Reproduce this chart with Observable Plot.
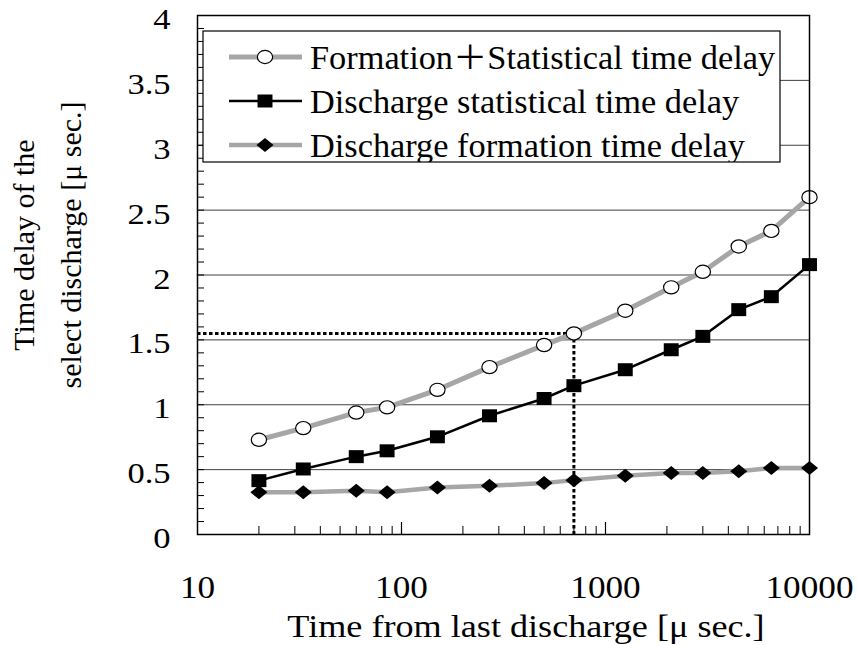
<!DOCTYPE html>
<html><head><meta charset="utf-8">
<script src="https://cdn.jsdelivr.net/npm/d3@7"></script>
<script src="https://cdn.jsdelivr.net/npm/@observablehq/plot@0.6"></script>
<style>html,body{margin:0;padding:0;background:#fff;} svg{display:block}</style>
</head><body><div id="chart"></div>
<script>
// ---- data ----
const timeFromLast = [20, 33, 60, 85, 150, 270, 500, 700, 1250, 2100, 3000, 4500, 6500, 10000];
const formationPlusStatistical = [0.73, 0.82, 0.94, 0.98, 1.115, 1.29, 1.46, 1.55, 1.725, 1.905, 2.025, 2.22, 2.34, 2.60];
const statisticalDelay = [0.415, 0.505, 0.60, 0.645, 0.753, 0.915, 1.048, 1.147, 1.27, 1.424, 1.527, 1.733, 1.833, 2.08];
const formationDelay = [0.325, 0.325, 0.337, 0.325, 0.362, 0.375, 0.396, 0.419, 0.453, 0.474, 0.474, 0.487, 0.512, 0.512];
const seriesNames = ["Formation＋Statistical time delay", "Discharge statistical time delay", "Discharge formation time delay"];
const xTicks = [10, 100, 1000, 10000];
const yTicks = [0, 0.5, 1, 1.5, 2, 2.5, 3, 3.5, 4];
const refX = [700];
const refY = [1.55];
const xTitle = "Time from last discharge [μ sec.]";
const yTitle = ["Time delay of the", "select discharge [μ sec.]"];

// ---- layout ----
const W = 858, H = 645, mL = 197, mR = 49, mT = 15, mB = 111;
const plotW = W - mL - mR, plotH = H - mT - mB;
const xDomain = [10, 10000];
const FONT = "'Liberation Serif', 'Times New Roman', 'Noto Sans CJK JP', serif";

const rows = timeFromLast.map((t, i) => ({t, fs: formationPlusStatistical[i], st: statisticalDelay[i], fo: formationDelay[i]}));
const refRows = refX.map((x, i) => ({x, y: refY[i]}));
const yMinor = d3.range(1, 40).map(i => i / 10);
const xMinor = [10, 100, 1000].flatMap(d => d3.range(2, 10).map(k => k * d)).filter(v => v !== 100 && v !== 1000);
const xMajorInner = xTicks.filter(v => v > xDomain[0] && v < xDomain[1]);

// slightly wide marker shapes (reference is horizontally stretched)
const K = 0.5523;
const ovalSym = {draw(ctx, size) {
  const ry = Math.sqrt(size / Math.PI), rx = ry * 1.16;
  ctx.moveTo(rx, 0);
  ctx.bezierCurveTo(rx, ry * K, rx * K, ry, 0, ry);
  ctx.bezierCurveTo(-rx * K, ry, -rx, ry * K, -rx, 0);
  ctx.bezierCurveTo(-rx, -ry * K, -rx * K, -ry, 0, -ry);
  ctx.bezierCurveTo(rx * K, -ry, rx, -ry * K, rx, 0);
  ctx.closePath();
}};
const rectSym = {draw(ctx, size) {
  const h = Math.sqrt(size / Math.PI), w = h * 1.15;
  ctx.moveTo(-w, -h); ctx.lineTo(w, -h); ctx.lineTo(w, h); ctx.lineTo(-w, h); ctx.closePath();
}};
const rhombSym = {draw(ctx, size) {
  const h = Math.sqrt(size / Math.PI), w = h * 1.22;
  ctx.moveTo(0, -h); ctx.lineTo(w, 0); ctx.lineTo(0, h); ctx.lineTo(-w, 0); ctx.closePath();
}};
const GRAY = "#a6a6a6";
const styles = [
  {stroke: GRAY, sw: 5, sym: ovalSym, r: 6.6, fill: "white", mstroke: "black"},
  {stroke: "black", sw: 2.5, sym: rectSym, r: 6.5, fill: "black", mstroke: "none"},
  {stroke: GRAY, sw: 4.5, sym: rhombSym, r: 7, fill: "black", mstroke: "none"}
];

const svg = Plot.plot({
  width: W, height: H,
  marginLeft: mL, marginRight: mR, marginTop: mT, marginBottom: mB,
  style: {fontFamily: FONT, background: "white", color: "black", overflow: "visible"},
  x: {type: "log", domain: xDomain},
  y: {domain: [0, 4]},
  marks: [
    Plot.ruleY(yTicks.filter(v => v > 0 && v < 4), {stroke: "#404040", strokeWidth: 1}),
    Plot.tickY(yMinor, {y: d => d, insetRight: plotW - 7, stroke: "black", strokeWidth: 1}),
    Plot.tickX(xMinor, {x: d => d, insetTop: plotH - 8, stroke: "black", strokeWidth: 1}),
    Plot.tickX(xMajorInner, {x: d => d, insetTop: plotH - 12, stroke: "black", strokeWidth: 1.2}),
    Plot.ruleY(refRows, {y: "y", x1: () => xDomain[0], x2: "x", stroke: "black", strokeWidth: 3, strokeDasharray: "3.5,2.5"}),
    Plot.ruleX(refRows, {x: "x", y1: "y", y2: () => 0, stroke: "black", strokeWidth: 3, strokeDasharray: "3.5,2.5"}),
    Plot.line(rows, {x: "t", y: "fo", stroke: styles[2].stroke, strokeWidth: styles[2].sw}),
    Plot.dot(rows, {x: "t", y: "fo", symbol: rhombSym, r: styles[2].r, fill: "black", stroke: "none"}),
    Plot.line(rows, {x: "t", y: "st", stroke: styles[1].stroke, strokeWidth: styles[1].sw}),
    Plot.dot(rows, {x: "t", y: "st", symbol: rectSym, r: styles[1].r, fill: "black", stroke: "none"}),
    Plot.line(rows, {x: "t", y: "fs", stroke: styles[0].stroke, strokeWidth: styles[0].sw}),
    Plot.dot(rows, {x: "t", y: "fs", symbol: ovalSym, r: styles[0].r, fill: "white", stroke: "black", strokeWidth: 1.2}),
    Plot.frame({stroke: "black", strokeWidth: 1.5}),
    Plot.axisY({ticks: yTicks, tickSize: 0, tickPadding: 27, fontSize: 30, dy: 4, tickFormat: d => String(d), label: null}),
    Plot.axisX({ticks: xTicks, tickSize: 0, tickPadding: 41, fontSize: 32, tickFormat: d => String(d), label: null})
  ]
});
document.getElementById("chart").appendChild(svg);

function stretch(node, s) {
  const L = node.getComputedTextLength();
  node.setAttribute("textLength", (L * s).toFixed(1));
  node.setAttribute("lengthAdjust", "spacingAndGlyphs");
}
const root = d3.select(svg);
root.selectAll('g[aria-label="y-axis tick label"] text').each(function() { stretch(this, 1.15); });
root.selectAll('g[aria-label="x-axis tick label"] text').each(function() { stretch(this, 1.1); });

// axis titles
const xt = root.append("text").attr("x", 526).attr("y", 637).attr("text-anchor", "middle")
  .attr("font-size", 32).attr("fill", "black").text(xTitle);
stretch(xt.node(), 1.13);
const ytX = [34, 81];
yTitle.forEach((line, i) => {
  root.append("text").attr("transform", `translate(${ytX[i]},245) rotate(-90)`)
    .attr("text-anchor", "middle").attr("font-size", 30).attr("fill", "black").text(line);
});

// legend (inside plot, white box)
const lg = root.append("g").attr("aria-label", "legend").attr("text-anchor", "start");
const box = {x: 203, y: 31, w: 577, h: 131};
root.append("clipPath").attr("id", "lgclip").append("rect")
  .attr("x", box.x).attr("y", box.y).attr("width", box.w).attr("height", box.h);
lg.append("rect").attr("x", box.x).attr("y", box.y).attr("width", box.w).attr("height", box.h)
  .attr("fill", "white").attr("stroke", "black").attr("stroke-width", 1.2);
const rowY = [57, 101, 145];
seriesNames.forEach((name, i) => {
  const st = styles[i], cy = rowY[i];
  lg.append("line").attr("x1", 229).attr("x2", 302).attr("y1", cy).attr("y2", cy)
    .attr("stroke", st.stroke).attr("stroke-width", st.sw);
  lg.append("path").attr("transform", `translate(265,${cy})`)
    .attr("d", d3.symbol(st.sym, Math.PI * st.r * st.r)())
    .attr("fill", st.fill).attr("stroke", st.mstroke).attr("stroke-width", 1.2);
  const t = lg.append("text").attr("x", 310).attr("y", cy + 12).attr("font-size", 33)
    .attr("text-anchor", "start").attr("fill", "black").attr("clip-path", "url(#lgclip)").text(name);
  stretch(t.node(), 1.04);
});
</script>
</body></html>
